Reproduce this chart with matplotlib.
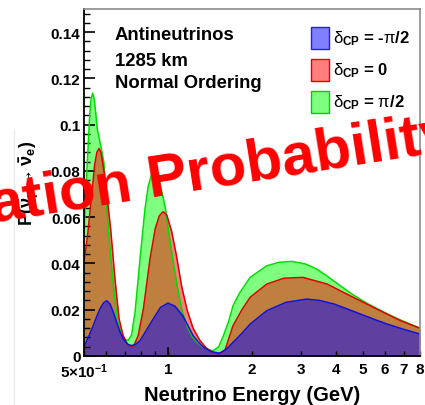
import matplotlib
matplotlib.use("Agg")
import matplotlib.pyplot as plt
from matplotlib.patches import Rectangle
from matplotlib.lines import Line2D
from matplotlib.ticker import FixedLocator, FixedFormatter

plt.rcParams["font.family"] = ["Liberation Sans", "DejaVu Sans"]
plt.rcParams["mathtext.fontset"] = "custom"
plt.rcParams["mathtext.rm"] = "Liberation Sans"
plt.rcParams["mathtext.it"] = "Liberation Sans:italic"
plt.rcParams["mathtext.bf"] = "Liberation Sans:bold"

# Appearance probability vs neutrino energy (GeV), antineutrinos, 1285 km baseline
energy_pos = [0.500, 0.506, 0.512, 0.518, 0.524, 0.530, 0.537, 0.544, 0.551, 0.558,
              0.574, 0.589, 0.595, 0.611, 0.634, 0.658, 0.680, 0.700, 0.720, 0.740,
              0.762, 0.794, 0.827, 0.850, 0.870, 0.888, 0.905, 0.930, 0.955, 0.980,
              1.010, 1.040, 1.080, 1.120, 1.170, 1.220, 1.270, 1.330, 1.400, 1.450,
              1.520, 1.580, 1.650, 1.710, 1.800, 1.970, 2.260, 2.500, 2.780, 3.100,
              3.410, 3.750, 4.120, 4.600, 5.160, 5.800, 6.410, 7.200, 8.000]
prob_pos = [0.052, 0.066, 0.080, 0.092, 0.104, 0.111, 0.1136, 0.111, 0.105, 0.098,
            0.091, 0.0837, 0.0765, 0.055, 0.033, 0.016, 0.0095, 0.0072, 0.0068, 0.0090,
            0.0190, 0.042, 0.0635, 0.0736, 0.0778, 0.0790, 0.0783, 0.0755, 0.0700, 0.0635,
            0.0520, 0.0420, 0.0300, 0.0203, 0.0130, 0.0085, 0.0060, 0.0040, 0.0026, 0.0023,
            0.0040, 0.0088, 0.0150, 0.0217, 0.0270, 0.0340, 0.0390, 0.0405, 0.0409, 0.0398,
            0.0376, 0.0342, 0.0306, 0.0265, 0.0228, 0.0196, 0.0170, 0.0143, 0.0120]

energy_zero = [0.500, 0.510, 0.518, 0.532, 0.546, 0.556, 0.566, 0.575, 0.583, 0.595,
               0.623, 0.646, 0.668, 0.690, 0.715, 0.750, 0.782, 0.816, 0.862, 0.900,
               0.930, 0.960, 0.990, 1.030, 1.070, 1.120, 1.170, 1.230, 1.300, 1.370,
               1.450, 1.530, 1.600, 1.710, 1.840, 1.970, 2.260, 2.600, 3.040, 3.720,
               4.500, 5.600, 6.800, 8.000]
prob_zero = [0.041, 0.048, 0.055, 0.069, 0.0827, 0.088, 0.0897, 0.088, 0.0837, 0.0765,
             0.055, 0.033, 0.016, 0.0090, 0.0050, 0.0038, 0.0088, 0.0203, 0.0420, 0.0550,
             0.0605, 0.0624, 0.0610, 0.0540, 0.0440, 0.0300, 0.0200, 0.0120, 0.0068, 0.0035,
             0.0015, 0.0010, 0.0025, 0.0131, 0.0200, 0.0254, 0.0311, 0.0336, 0.0340, 0.0311,
             0.0260, 0.0203, 0.0153, 0.0120]

energy_neg = [0.500, 0.520, 0.539, 0.555, 0.570, 0.588, 0.603, 0.620, 0.637, 0.655,
              0.673, 0.695, 0.720, 0.740, 0.765, 0.794, 0.840, 0.885, 0.940, 1.000,
              1.060, 1.130, 1.180, 1.230, 1.290, 1.340, 1.420, 1.530, 1.620, 1.710,
              1.840, 1.970, 2.260, 2.650, 3.140, 3.500, 3.930, 4.400, 4.900, 5.500,
              6.100, 7.000, 8.000]
prob_neg = [0.0040, 0.0085, 0.0130, 0.0170, 0.0203, 0.0230, 0.0239, 0.0225, 0.0189, 0.0145,
            0.0104, 0.0070, 0.0050, 0.0045, 0.0050, 0.0066, 0.0115, 0.0160, 0.0210, 0.0229,
            0.0215, 0.0174, 0.0130, 0.0088, 0.0058, 0.0038, 0.0020, 0.0012, 0.0030, 0.0059,
            0.0098, 0.0138, 0.0196, 0.0232, 0.0246, 0.0240, 0.0225, 0.0203, 0.0181, 0.0158,
            0.0138, 0.0115, 0.0095]

legend_labels = [r"$\mathrm{\delta}_{\mathbf{CP}}$ = -$\mathrm{\pi}$/2",
                 r"$\mathrm{\delta}_{\mathbf{CP}}$ = 0",
                 r"$\mathrm{\delta}_{\mathbf{CP}}$ = $\mathrm{\pi}$/2"]

y_ticks = [0, 0.02, 0.04, 0.06, 0.08, 0.10, 0.12, 0.14]
y_tick_labels = ["0", "0.02", "0.04", "0.06", "0.08", "0.1", "0.12", "0.14"]
x_ticks = [0.5, 1, 2, 3, 4, 5, 6, 7, 8]
x_tick_labels = [r"$\mathbf{5{\times}10^{-1}}$", "1", "2", "3", "4", "5", "6", "7", "8"]

W, H = 425, 406
fig = plt.figure(figsize=(W / 100, H / 100), dpi=100)
ax = fig.add_axes([84 / W, 1 - 357 / H, 336 / W, 347 / H])

series = [
    (energy_pos, prob_pos, "#00ff00", "#00dd00"),
    (energy_zero, prob_zero, "#ff0000", "#e00000"),
    (energy_neg, prob_neg, "#0000ff", "#1010e0"),
]
for e, p, fc, lc in series:
    ax.fill_between(e, 0, p, color=fc, alpha=0.5, lw=0)
    ax.plot(e, p, color=lc, lw=1.1)

ax.set_xscale("log")
ax.set_xlim(0.5, 8)
ax.set_ylim(0, 0.15)

ax.xaxis.set_major_locator(FixedLocator(x_ticks))
ax.xaxis.set_major_formatter(FixedFormatter(x_tick_labels))
ax.xaxis.set_minor_locator(FixedLocator([0.6, 0.7, 0.8, 0.9, 1.0]))
ax.yaxis.set_major_locator(FixedLocator(y_ticks))
ax.yaxis.set_major_formatter(FixedFormatter(y_tick_labels))
ax.yaxis.set_minor_locator(FixedLocator([i * 0.004 for i in range(38)]))

ax.tick_params(axis="x", which="major", direction="in", length=3.6, width=1.0,
               labelsize=11, pad=4, top=False)
ax.tick_params(axis="x", which="minor", direction="in", length=3.6, width=1.0, top=False)
ax.tick_params(axis="y", which="major", direction="in", length=8, width=1.2,
               labelsize=11, pad=2.5, right=False)
ax.tick_params(axis="y", which="minor", direction="in", length=4.3, width=1.0, right=False)
for lab in ax.get_xticklabels() + ax.get_yticklabels():
    lab.set_fontweight("bold")

# longer tick at 1 GeV
ax.plot([1, 1], [0, 0.0036], color="black", lw=1.2, clip_on=False, zorder=5)

for s in ("left", "bottom"):
    ax.spines[s].set_color("black")
    ax.spines[s].set_linewidth(1.3)
for s in ("top", "right"):
    ax.spines[s].set_color("#8c8c8c")
    ax.spines[s].set_linewidth(1.2)

ax.set_xlabel("Neutrino Energy (GeV)", fontsize=14.5, fontweight="bold")
ax.xaxis.set_label_coords(0.5, -0.083)
ax.set_ylabel(r"$\mathbf{P(\bar{\nu}_{\mu} \rightarrow \bar{\nu}_{e})}$", fontsize=13)
ax.yaxis.set_label_coords(-0.125, 0.5)

for txt, yc in [("Antineutrinos", 36), ("1285 km", 61), ("Normal Ordering", 84)]:
    fig.text(115 / W, 1 - yc / H, txt, fontsize=13.3, fontweight="bold",
             ha="left", va="center")

legend_colors = [("#0000ff", "#2020e0"), ("#ff0000", "#e00000"), ("#00ff00", "#00cc00")]
box_tops = [28, 60, 92]
for (fc, ec), top, lab in zip(legend_colors, box_tops, legend_labels):
    fig.add_artist(Rectangle((311 / W, 1 - (top + 22) / H), 18 / W, 22 / H,
                             transform=fig.transFigure, facecolor=fc, alpha=0.5,
                             edgecolor="none"))
    fig.add_artist(Rectangle((311 / W, 1 - (top + 22) / H), 18 / W, 22 / H,
                             transform=fig.transFigure, facecolor="none",
                             edgecolor=ec, lw=1.0))
    fig.text(333 / W, 1 - (top + 11) / H, lab, fontsize=12, fontweight="bold",
             ha="left", va="center")

fig.add_artist(Line2D([14 / W, 14 / W], [0, 1 - 130 / H], transform=fig.transFigure,
                      color="#ececec", lw=1))

fig.text(-168 / W, 1 - 248 / H, "Oscillation Probability", color="#ff0000",
         fontsize=43, fontweight="bold", rotation=9, rotation_mode="anchor",
         ha="left", va="baseline", zorder=10)

fig.savefig("out.png", dpi=100)
